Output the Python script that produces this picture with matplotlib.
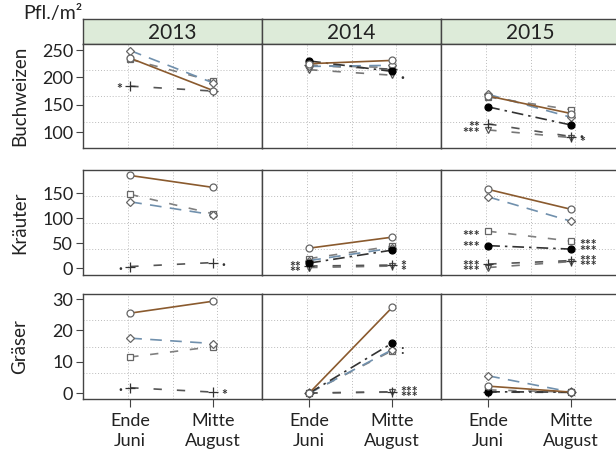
"""
Pflanzendichte je Pflanzengruppe, Ende Juni vs. Mitte August, 2013-2015.
"""

import matplotlib
matplotlib.use("Agg")
import matplotlib.pyplot as plt

plt.rcParams["font.family"] = ["Lato", "DejaVu Sans"]

years = ["2013", "2014", "2015"]
groups = ["Buchweizen", "Kräuter", "Gräser"]
time_labels = ["Ende\nJuni", "Mitte\nAugust"]
series = ["kreis", "raute", "quadrat", "punkt", "dreieck", "plus"]

# je Jahr: Werte in der Reihenfolge von `series` (None = nicht erhoben)
buchweizen_juni = [[235, 249, 233, None, None, 184],
                   [225, 220, 222, 230, 214, 222],
                   [166, 169, 164, 146, 104, 115]]
buchweizen_august = [[176, 190, 193, None, None, 175],
                     [231, 222, 218, 211, 204, 215],
                     [134, 127, 141, 113, 90, 92]]

kraeuter_juni = [[186, 133, 148, None, None, 3],
                 [40, 15, 19, 10, 1, 4],
                 [158, 143, 74, 45, 1, 8]]
kraeuter_august = [[162, 107, 109, None, None, 11],
                   [62, 40, 44, 36, 4, 6],
                   [118, 94, 54, 38, 13, 15]]

graeser_juni = [[25.5, 17.5, 11.5, None, None, 1.7],
                [0, 0, 0, 0, 0, 0],
                [2.2, 5.5, 1.0, 0.4, 0.2, 0.3]]
graeser_august = [[29.3, 15.8, 14.8, None, None, 0.3],
                  [27.3, 13.8, 13.5, 15.9, 0.3, 0.4],
                  [0.3, 0.3, 0.3, 0.3, 0.2, 0.2]]

# Signifikanzzeichen: (Jahr-Index, Reihen, Zeitpunkt-Index, Text)
# mehrere Reihen -> ein gestapeltes Zeichen, eine Zeile je Reihe
sig_buchweizen = [(0, ("plus",), 0, "*"),
                  (1, ("dreieck",), 1, "·"),
                  (2, ("plus", "dreieck"), 0, "**\n***"),
                  (2, ("plus", "dreieck"), 1, "·\n*")]
sig_kraeuter = [(0, ("plus",), 0, "·"), (0, ("plus",), 1, "·"),
                (1, ("plus", "dreieck"), 0, "**\n**"),
                (1, ("plus", "dreieck"), 1, "*\n*"),
                (2, ("quadrat", "punkt"), 0, "***\n***"),
                (2, ("plus", "dreieck"), 0, "***\n***"),
                (2, ("quadrat", "punkt"), 1, "***\n***"),
                (2, ("plus", "dreieck"), 1, "***\n***")]
sig_graeser = [(0, ("plus",), 0, "·"), (0, ("plus",), 1, "*"),
               (1, ("punkt", "quadrat"), 1, ":"),
               (1, ("plus", "dreieck"), 1, "***\n***")]

y_ticks = [[100, 150, 200, 250], [0, 50, 100, 150], [0, 10, 20, 30]]
y_limits = [(71, 261), (-14, 197), (-1.9, 31.6)]

styles = {
    "kreis": dict(color="#8a5a2e", ls="-", marker="o", mfc="white", mec="#666666"),
    "raute": dict(color="#7090ad", ls=(0, (7, 5)), marker="D", mfc="white", mec="#666666", ms=4.5),
    "quadrat": dict(color="#808080", ls=(0, (5, 7)), marker="s", mfc="white", mec="#666666", ms=4.5),
    "punkt": dict(color="#333333", ls=(0, (7, 3, 1.5, 3)), marker="o", mfc="black", mec="black"),
    "dreieck": dict(color="#777777", ls=(0, (5, 9)), marker="v", mfc="white", mec="#555555"),
    "plus": dict(color="#555555", ls=(0, (5, 9)), marker="+", mec="#333333", ms=7),
}
zorders = {"kreis": 6, "raute": 4, "quadrat": 3, "punkt": 5, "dreieck": 2, "plus": 2}

W, H = 616, 459
SIG_FS = 10


def rect(x0, y0, x1, y1):
    return [x0 / W, 1 - y1 / H, (x1 - x0) / W, (y1 - y0) / H]


col_x = [83, 262, 441]
col_w = 179
row_y = [(44, 148), (170, 275), (294, 399)]

fig = plt.figure(figsize=(6.16, 4.59), dpi=100)

data_juni = [buchweizen_juni, kraeuter_juni, graeser_juni]
data_august = [buchweizen_august, kraeuter_august, graeser_august]
sigs = [sig_buchweizen, sig_kraeuter, sig_graeser]

# Kopfleisten mit Jahreszahlen
for j, year in enumerate(years):
    sax = fig.add_axes(rect(col_x[j], 19, col_x[j] + col_w, 44))
    sax.set_facecolor("#ddebd9")
    sax.set_xticks([])
    sax.set_yticks([])
    for sp in sax.spines.values():
        sp.set_color("#444444")
        sp.set_linewidth(1.0)
    sax.text(0.5, 0.45, year, ha="center", va="center", fontsize=15,
             color="#222222", transform=sax.transAxes)

for i, group in enumerate(groups):
    y0, y1 = row_y[i]
    for j, year in enumerate(years):
        ax = fig.add_axes(rect(col_x[j], y0, col_x[j] + col_w, y1))
        ax.set_xlim(0.43, 2.59)
        ax.set_ylim(*y_limits[i])
        for sp in ax.spines.values():
            sp.set_color("#444444")
            sp.set_linewidth(1.0)

        # gepunktetes Raster in Vierteln des Feldes
        for f in (0.25, 0.5, 0.75):
            ax.plot([f, f], [0, 1], transform=ax.transAxes, color="#bbbbbb",
                    lw=0.7, ls=(0, (1, 2)), zorder=0)
            ax.plot([0, 1], [f, f], transform=ax.transAxes, color="#bbbbbb",
                    lw=0.7, ls=(0, (1, 2)), zorder=0)

        for k, name in enumerate(series):
            a = data_juni[i][j][k]
            b = data_august[i][j][k]
            if a is None:
                continue
            st = dict(styles[name])
            ms = st.pop("ms", 5)
            ax.plot([1, 2], [a, b], lw=1.2, ms=ms, mew=0.9,
                    zorder=zorders[name], clip_on=False, **st)

        for (yi, names, t, txt) in sigs[i]:
            if yi != j:
                continue
            src = data_juni if t == 0 else data_august
            vals = [src[i][j][series.index(n)] for n in names]
            val = sum(vals) / len(vals)
            # Zeilenabstand so, dass jede Zeile bei ihrer Reihe liegt
            ls = 0.5
            if len(vals) > 1 and "\n" in txt:
                pix = [ax.transData.transform((t + 1, v))[1] for v in vals]
                gap = max(abs(pix[0] - pix[-1]), 5.0)
                ls = gap / (SIG_FS * fig.dpi / 72 * 1.2)
            dx = -6 if t == 0 else 6
            ax.annotate(txt, xy=(t + 1, val), xytext=(dx, -2),
                        textcoords="offset points",
                        ha="right" if t == 0 else "left", va="center",
                        multialignment="right" if t == 0 else "left",
                        linespacing=ls, fontsize=SIG_FS, fontweight="bold",
                        color="#333333", annotation_clip=False)

        if j == 0:
            ax.set_yticks(y_ticks[i])
            ax.tick_params(axis="y", labelsize=13, length=5, color="#444444",
                           labelcolor="#222222", pad=2)
        else:
            ax.set_yticks([])
        if i == 2:
            ax.set_xticks([1, 2])
            ax.set_xticklabels(time_labels)
            ax.tick_params(axis="x", labelsize=13, length=6, color="#444444",
                           labelcolor="#222222", pad=4)
            for lab in ax.get_xticklabels():
                lab.set_linespacing(1.3)
        else:
            ax.set_xticks([])

    fig.text(20 / W, 1 - ((y0 + y1) / 2) / H, group, rotation=90,
             ha="center", va="center", fontsize=13.5, color="#222222")

fig.text(23 / W, 1 - 13 / H, "Pfl./m²", ha="left", va="center",
         fontsize=14, color="#222222")

fig.savefig("out.png", dpi=100)
